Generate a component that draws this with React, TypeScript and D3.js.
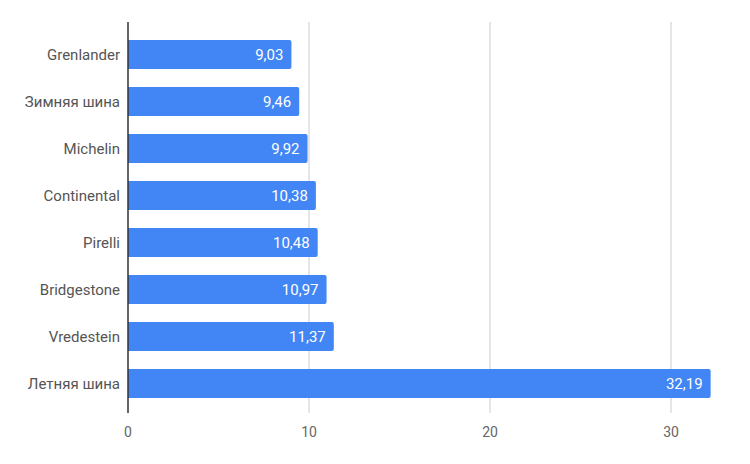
import React from 'react';
import * as d3 from 'd3';

const brands = ['Grenlander', 'Зимняя шина', 'Michelin', 'Continental', 'Pirelli', 'Bridgestone', 'Vredestein', 'Летняя шина'];
const values = [9.03, 9.46, 9.92, 10.38, 10.48, 10.97, 11.37, 32.19];
const xTicks = [0, 10, 20, 30];

const width = 750;
const height = 464;

const App = () => {
    const x = d3.scaleLinear().domain([0, 30]).range([128, 671]);
    const y = d3.scaleBand<string>().domain(brands).range([31, 407]).paddingInner(0.383).paddingOuter(0.1915);
    const fmt = (v: number) => v.toFixed(2).replace('.', ',');

    return (
        <svg width={width} height={height} style={{position: 'absolute', left: 0, top: 0, fontFamily: 'Roboto, sans-serif'}}>
            <rect width={width} height={height} fill="#fff" />
            {xTicks.filter((t) => t > 0).map((t) => (
                <line key={t} x1={x(t)} x2={x(t)} y1={22} y2={413} stroke="#ccc" strokeWidth={1} />
            ))}
            {brands.map((b, i) => {
                const y0 = y(b)!;
                const h = y.bandwidth();
                const x0 = x(0);
                const x1 = x(values[i]);
                return (
                    <g key={b}>
                        <path
                            d={`M${x0},${y0}H${x1 - 2}Q${x1},${y0} ${x1},${y0 + 2}V${y0 + h - 2}Q${x1},${y0 + h} ${x1 - 2},${y0 + h}H${x0}Z`}
                            fill="#4285f4"
                        />
                        <text x={x1 - 8} y={y0 + h / 2} dy="0.35em" textAnchor="end" fill="#fff" fontSize={15}>
                            {fmt(values[i])}
                        </text>
                        <text x={120} y={y0 + h / 2} dy="0.35em" textAnchor="end" fill="#555" fontSize={15}>
                            {b}
                        </text>
                    </g>
                );
            })}
            <line x1={x(0)} x2={x(0)} y1={22} y2={413} stroke="#333" strokeWidth={1.5} />
            {xTicks.map((t) => (
                <text key={t} x={x(t)} y={432} dy="0.35em" textAnchor="middle" fill="#666" fontSize={14}>
                    {t}
                </text>
            ))}
        </svg>
    );
};

export default App;
